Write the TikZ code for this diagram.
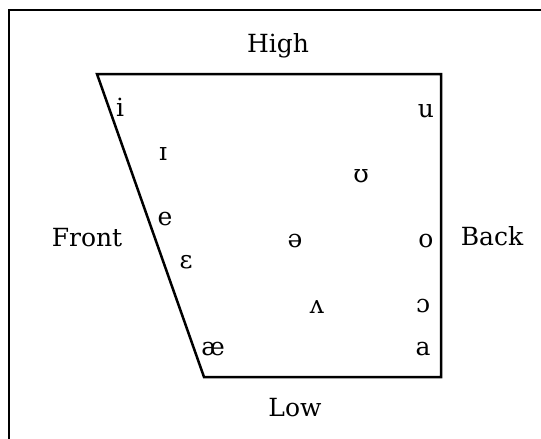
\documentclass[tikz,border=0pt]{standalone}
\usepackage{fontspec}
\setmainfont{DejaVu Serif}
\usepackage{tikz}

\begin{document}
\begin{tikzpicture}[x=1pt,y=-1pt,
  lbl/.style={anchor=base,inner sep=0pt},
  edge/.style={line width=2.5pt,line join=miter}]
\fontsize{25}{29}\selectfont
\useasboundingbox (0,0) rectangle (541,439);
\draw[line width=2.8pt] (9,439) -- (9,10) -- (541,10); % outer frame
\coordinate (tl) at (97,74);
\coordinate (tr) at (441,74);
\coordinate (br) at (441,377);
\coordinate (bl) at (204,377);
\draw[edge] (tl) -- (tr) -- (br) -- (bl) -- cycle; % vowel space
\draw (278,52) node[lbl] (high) {High};
\draw (295,416) node[lbl] (low) {Low};
\draw (87,246) node[lbl] (front) {Front};
\draw (492,245) node[lbl] (back) {Back};
% front vowels
\draw (120,116) node[lbl] (vi) {i};
\draw (163,160) node[lbl] (vI) {ɪ};
\draw (165,225) node[lbl] (ve) {e};
\draw (186,268) node[lbl] (vE) {ɛ};
\draw (213,355) node[lbl] (vae) {æ};
% central vowels
\draw (295,247) node[lbl] (vschwa) {ə};
\draw (317,313) node[lbl] (vwedge) {ʌ};
% back vowels
\draw (426,117) node[lbl] (vu) {u};
\draw (361,182) node[lbl] (vU) {ʊ};
\draw (426,247) node[lbl] (vo) {o};
\draw (423,312) node[lbl] (vO) {ɔ};
\draw (423,355) node[lbl] (va) {a};
\end{tikzpicture}
\end{document}
